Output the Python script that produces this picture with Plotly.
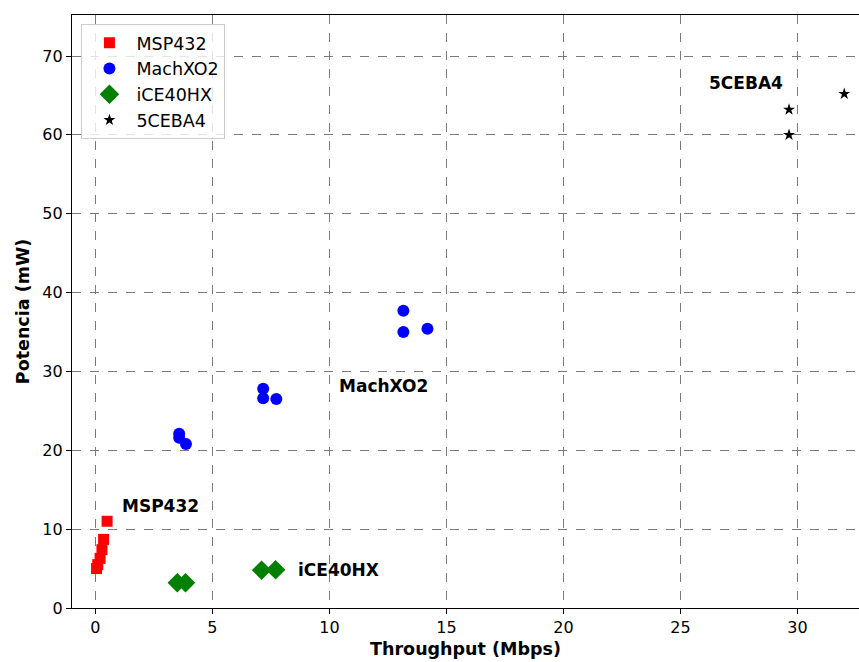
import plotly.graph_objects as go

msp_x = [0.05, 0.10, 0.20, 0.28, 0.35, 0.50]
msp_y = [5.0, 5.5, 6.3, 7.4, 8.7, 11.0]

mach_x = [3.58, 3.58, 3.87, 7.17, 7.17, 7.73, 13.16, 13.16, 14.19]
mach_y = [22.1, 21.6, 20.8, 27.8, 26.6, 26.5, 37.7, 35.0, 35.4]

ice_x = [3.5, 3.85, 7.1, 7.7]
ice_y = [3.2, 3.2, 4.8, 4.85]

cyc_x = [29.64, 29.64, 32.0]
cyc_y = [63.2, 60.0, 65.2]

labels = ["MSP432", "MachXO2", "iCE40HX", "5CEBA4"]
label_x = [2.8, 12.3, 10.4, 27.8]
label_y = [12.9, 28.2, 4.8, 66.6]

FONT = "DejaVu Sans"

fig = go.Figure()
fig.add_trace(go.Scatter(x=msp_x, y=msp_y, mode="markers", name="MSP432",
                         marker=dict(symbol="square", color="red", size=11)))
fig.add_trace(go.Scatter(x=mach_x, y=mach_y, mode="markers", name="MachXO2",
                         marker=dict(symbol="circle", color="blue", size=12)))
fig.add_trace(go.Scatter(x=ice_x, y=ice_y, mode="markers", name="iCE40HX",
                         marker=dict(symbol="diamond", color="green", size=15)))
fig.add_trace(go.Scatter(x=cyc_x, y=cyc_y, mode="markers", name="5CEBA4",
                         marker=dict(symbol="star", color="black", size=9)))

for t, x, y in zip(labels, label_x, label_y):
    fig.add_annotation(x=x, y=y, text="<b>" + t + "</b>", showarrow=False,
                       font=dict(family=FONT, size=17, color="black"))

axis_common = dict(
    showgrid=True, gridcolor="#7a7a7a", griddash="dash", gridwidth=1.2,
    showline=True, linecolor="black", linewidth=1.2,
    ticks="outside", ticklen=5, tickcolor="black",
    tickfont=dict(family=FONT, size=16, color="black"),
    zeroline=False,
)

fig.update_layout(
    width=859, height=662,
    margin=dict(l=72, r=0, t=15, b=54),
    paper_bgcolor="white", plot_bgcolor="white",
    font=dict(family=FONT, color="black"),
    xaxis=dict(range=[-1.0, 32.63], tickvals=[0, 5, 10, 15, 20, 25, 30],
               mirror=True,
               title=dict(text="<b>Throughput (Mbps)</b>", font=dict(family=FONT, size=17.5), standoff=6),
               **axis_common),
    yaxis=dict(range=[0, 75.2], tickvals=[0, 10, 20, 30, 40, 50, 60, 70],
               title=dict(text="<b>Potencia (mW)</b>", font=dict(family=FONT, size=17.5), standoff=8),
               **axis_common),
    legend=dict(x=0.012, y=0.985, xanchor="left", yanchor="top",
                bgcolor="rgba(255,255,255,0.8)", bordercolor="#cccccc", borderwidth=1,
                font=dict(family=FONT, size=17.5), itemwidth=44, itemsizing="trace"),
    showlegend=True,
)

fig.write_html("out.html")
